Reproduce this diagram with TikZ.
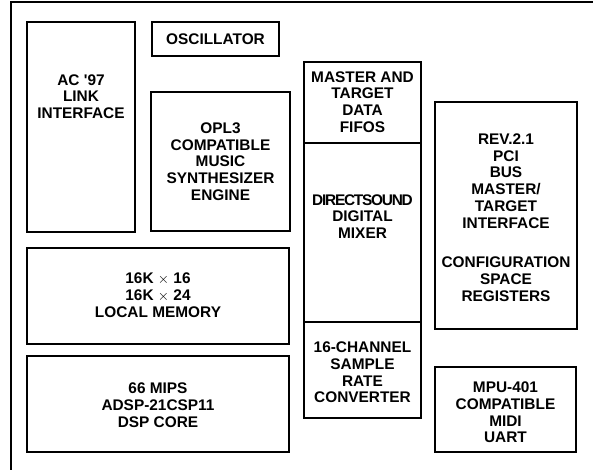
\documentclass[tikz,border=0pt]{standalone}
\usepackage{fontspec}
\setmainfont{Liberation Sans}
\usetikzlibrary{positioning}

\tikzset{
	frame/.style={line width=1.8pt, line cap=rect},
	blk/.style={draw, line width=1.6pt, inner sep=0pt, outer sep=0pt},
	lbl/.style={align=center, inner sep=0pt, font=\bfseries\fontsize{15.4}{16.7}\selectfont}
}

% block from (x1,y1) to (x2,y2), in pixels of the figure
\newcommand{\blkbox}[5]{%
	\node[blk, minimum width={#4-#2}, minimum height={#5-#3}] (#1) at ({(#2+#4)/2},{(#3+#5)/2}) {};}

\begin{document}
\begin{tikzpicture}[x=1pt, y=-1pt]
	\useasboundingbox (0,0) rectangle (593,469);
	
	% outer frame (only top and left edges show)
	\draw[frame] (11,469) -- (11,2) -- (593,2);
	
	% left column
	\blkbox{ac}{27}{22}{135}{232}
	\blkbox{osc}{152}{22}{279}{56}
	\blkbox{opl}{151}{92}{290}{231}
	\blkbox{mem}{27}{248}{289}{344}
	\blkbox{dsp}{27}{356}{289}{452}
	
	% middle column
	\blkbox{fifo}{304}{62}{421}{143}
	\blkbox{mix}{304}{143}{421}{322}
	\blkbox{src}{304}{322}{421}{418}
	
	% right column
	\blkbox{pci}{435}{102}{577}{329}
	\blkbox{mpu}{435}{367}{576}{452}
	
	\node[lbl] (acT) at (81,96.5) {AC \textquotesingle97\\LINK\\INTERFACE};
	\node[lbl] (oscT) at (osc.center) {OSCILLATOR};
	\node[lbl] (oplT) at (220.5,161.5) {OPL3\\COMPATIBLE\\MUSIC\\SYNTHESIZER\\ENGINE};
	\node[lbl] (memT) at (158,295) {16K $\times$ 16\\16K $\times$ 24\\LOCAL MEMORY};
	\node[lbl] (dspT) at (158,405) {66 MIPS\\ADSP-21CSP11\\DSP CORE};
	
	\node[lbl] (fifoT) at (362.5,102) {MASTER AND\\TARGET\\DATA\\FIFOS};
	\node[lbl] (mixT) at (362.5,216.5) {{\addfontfeature{LetterSpace=-8}DIRECTSOUND}\\DIGITAL\\MIXER};
	\node[lbl] (srcT) at (362.5,372.5) {16-CHANNEL\\SAMPLE\\RATE\\CONVERTER};
	
	\node[lbl] (pciT) at (506,217.5) {REV.2.1\\PCI\\BUS\\MASTER/\\TARGET\\INTERFACE\\[23pt]CONFIGURATION\\SPACE\\REGISTERS};
	\node[lbl] (mpuT) at (505.5,412.5) {MPU-401\\COMPATIBLE\\MIDI\\UART};
	
\end{tikzpicture}
\end{document}
